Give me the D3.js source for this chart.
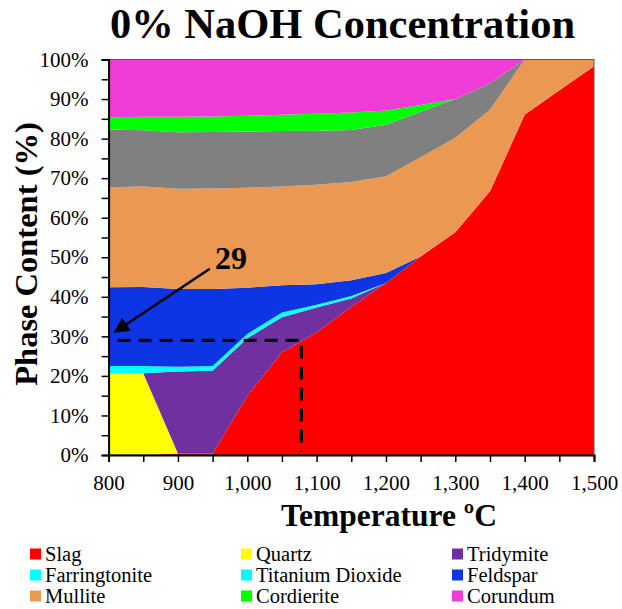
<!DOCTYPE html>
<html>
<head>
<meta charset="utf-8">
<script src="https://cdn.jsdelivr.net/npm/d3@7"></script>
<style>
  body { margin: 0; background: #fff; }
  svg text { font-family: "Liberation Serif", "Times New Roman", Times, "DejaVu Serif", "Noto Serif", serif !important; }
</style>
</head>
<body>
<div id="chart"></div>
<script>
// temperatures (ºC)
const temps = [800, 850, 900, 950, 1000, 1050, 1100, 1150, 1200, 1250, 1300, 1350, 1400, 1450, 1500];

// phase content (%) per temperature, stacked bottom to top
const slag          = [0, 0, 0.4, 0.4, 15, 26, 31, 37.5, 43.5, 50.2, 56.3, 66.7, 86, 92.2, 98.3];
const quartz        = [20.7, 20.7, 0, 0, 0, 0, 0, 0, 0, 0, 0, 0, 0, 0, 0];
const tridymite     = [0, 0, 20.7, 20.9, 14.5, 8.8, 6.3, 2.1, 0, 0, 0, 0, 0, 0, 0];
const farringtonite = [0.9, 0.9, 0.5, 0.6, 0.5, 0.6, 0.4, 0.3, 0, 0, 0, 0, 0, 0, 0];
const tio2          = [0.9, 0.9, 0.7, 0.6, 0.6, 0.6, 0.3, 0.3, 0, 0, 0, 0, 0, 0, 0];
const feldspar      = [19.9, 20.0, 19.7, 19.5, 11.7, 6.9, 5.2, 4.0, 2.5, 0, 0, 0, 0, 0, 0];
const mullite       = [25.3, 25.4, 25.3, 25.4, 25.3, 25.0, 25.1, 24.8, 24.5, 25.1, 23.9, 20.6, 14, 7.8, 1.7];
const other         = [14.6, 14.2, 14.3, 14.3, 14.2, 14.0, 13.7, 13.2, 13.0, 11.5, 9.8, 6.7, 0, 0, 0];
const cordierite    = [3.1, 3.4, 3.9, 3.9, 4.0, 4.1, 4.3, 4.4, 3.6, 1.7, 0, 0, 0, 0, 0];
const corundum      = [14.6, 14.5, 14.5, 14.4, 14.2, 14.0, 13.7, 13.4, 12.9, 11.5, 10, 6, 0, 0, 0];

const series = [
  { key: "Slag", values: slag, color: "#FF0000", legend: true },
  { key: "Quartz", values: quartz, color: "#FFFF00", legend: true },
  { key: "Tridymite", values: tridymite, color: "#7030A0", legend: true },
  { key: "Farringtonite", values: farringtonite, color: "#00FFFF", legend: true },
  { key: "Titanium Dioxide", values: tio2, color: "#00FFFF", legend: true },
  { key: "Feldspar", values: feldspar, color: "#0D35E3", legend: true },
  { key: "Mullite", values: mullite, color: "#EB9852", legend: true },
  { key: "Other", values: other, color: "#808080", legend: false },
  { key: "Cordierite", values: cordierite, color: "#00FF00", legend: true },
  { key: "Corundum", values: corundum, color: "#F03CD6", legend: true }
];

// annotation
const markValue = 29;
const markTemp = 1078;

const W = 622, H = 609;
const svg = d3.select("#chart").append("svg").attr("width", W).attr("height", H);

const x = d3.scaleLinear().domain([800, 1500]).range([108.6, 594]);
const y = d3.scaleLinear().domain([0, 100]).range([455, 59.5]);

// build rows for d3.stack
const rows = temps.map((t, i) => {
  const r = { t: t };
  series.forEach(s => { r[s.key] = s.values[i]; });
  return r;
});
const stack = d3.stack().keys(series.map(s => s.key));
const layers = stack(rows);

const area = d3.area()
  .x(d => x(d.data.t))
  .y0(d => y(d[0]))
  .y1(d => y(d[1]));

svg.append("g").selectAll("path")
  .data(layers)
  .join("path")
  .attr("fill", (d, i) => series[i].color)
  .attr("d", area);

// plot frame
svg.append("rect")
  .attr("x", x(800)).attr("y", y(100))
  .attr("width", x(1500) - x(800)).attr("height", y(0) - y(100))
  .attr("fill", "none").attr("stroke", "#595959").attr("stroke-width", 1);

// axes
const yAxis = d3.axisLeft(y)
  .tickValues(d3.range(0, 101, 5))
  .tickSize(7)
  .tickFormat(d => d % 10 === 0 ? d + "%" : "");
const gy = svg.append("g").attr("transform", `translate(${x(800)},0)`).call(yAxis);
gy.select(".domain").attr("stroke", "#000").attr("stroke-width", 2);
gy.selectAll(".tick line").attr("stroke", "#000").attr("stroke-width", 1.5);
gy.selectAll(".tick text")
  .attr("x", -20).attr("dy", "0.32em")
  .attr("font-size", 21).attr("fill", "#000");

const xAxis = d3.axisBottom(x)
  .tickValues(d3.range(800, 1501, 50))
  .tickSize(7)
  .tickFormat(d => d % 100 === 0 ? d3.format(",")(d) : "");
const gx = svg.append("g").attr("transform", `translate(0,${y(0)})`).call(xAxis);
gx.select(".domain").attr("stroke", "#000").attr("stroke-width", 2);
gx.selectAll(".tick line").attr("stroke", "#000").attr("stroke-width", 1.5);
gx.selectAll(".tick text")
  .attr("y", 20).attr("dy", "0.71em")
  .attr("font-size", 21).attr("fill", "#000");

// dashed guide at the marked value
svg.append("path")
  .attr("d", `M${x(813)},${y(markValue)}H${x(markTemp)}V${y(0.9)}`)
  .attr("fill", "none").attr("stroke", "#000")
  .attr("stroke-width", 3.2).attr("stroke-dasharray", "13,8");

// arrow with label
svg.append("defs").append("marker")
  .attr("id", "head").attr("viewBox", "0 0 10 10")
  .attr("refX", 9).attr("refY", 5)
  .attr("markerWidth", 6.5).attr("markerHeight", 6)
  .attr("markerUnits", "strokeWidth")
  .attr("orient", "auto")
  .append("path").attr("d", "M0,0L10,5L0,10Z").attr("fill", "#000");

svg.append("line")
  .attr("x1", x(1000) - 37.5).attr("y1", y(47.1))
  .attr("x2", x(809)).attr("y2", y(31.1))
  .attr("stroke", "#000").attr("stroke-width", 2.6)
  .attr("marker-end", "url(#head)");

svg.append("text")
  .attr("x", 215).attr("y", 269)
  .attr("font-size", 32).attr("font-weight", "bold")
  .text(markValue);

// titles
svg.append("text")
  .attr("x", 342.5).attr("y", 38)
  .attr("text-anchor", "middle")
  .attr("font-size", 42.5).attr("font-weight", "bold")
  .text("0% NaOH Concentration");

svg.append("text")
  .attr("x", 389).attr("y", 526)
  .attr("text-anchor", "middle")
  .attr("font-size", 31.5).attr("font-weight", "bold")
  .text("Temperature ºC");

svg.append("text")
  .attr("transform", "translate(37,254) rotate(-90)")
  .attr("text-anchor", "middle")
  .attr("font-size", 32.5).attr("font-weight", "bold")
  .text("Phase Content (%)");

// legend
const legendItems = series.filter(s => s.legend);
const lg = svg.append("g").selectAll("g")
  .data(legendItems)
  .join("g")
  .attr("transform", (d, i) => `translate(${30 + (i % 3) * 211},${554 + Math.floor(i / 3) * 21})`);
lg.append("rect")
  .attr("x", 0).attr("y", -5.5).attr("width", 11).attr("height", 11)
  .attr("fill", d => d.color);
lg.append("text")
  .attr("x", 15).attr("y", 0).attr("dy", "0.34em")
  .attr("font-size", 20.5)
  .text(d => d.key);
</script>
</body>
</html>
